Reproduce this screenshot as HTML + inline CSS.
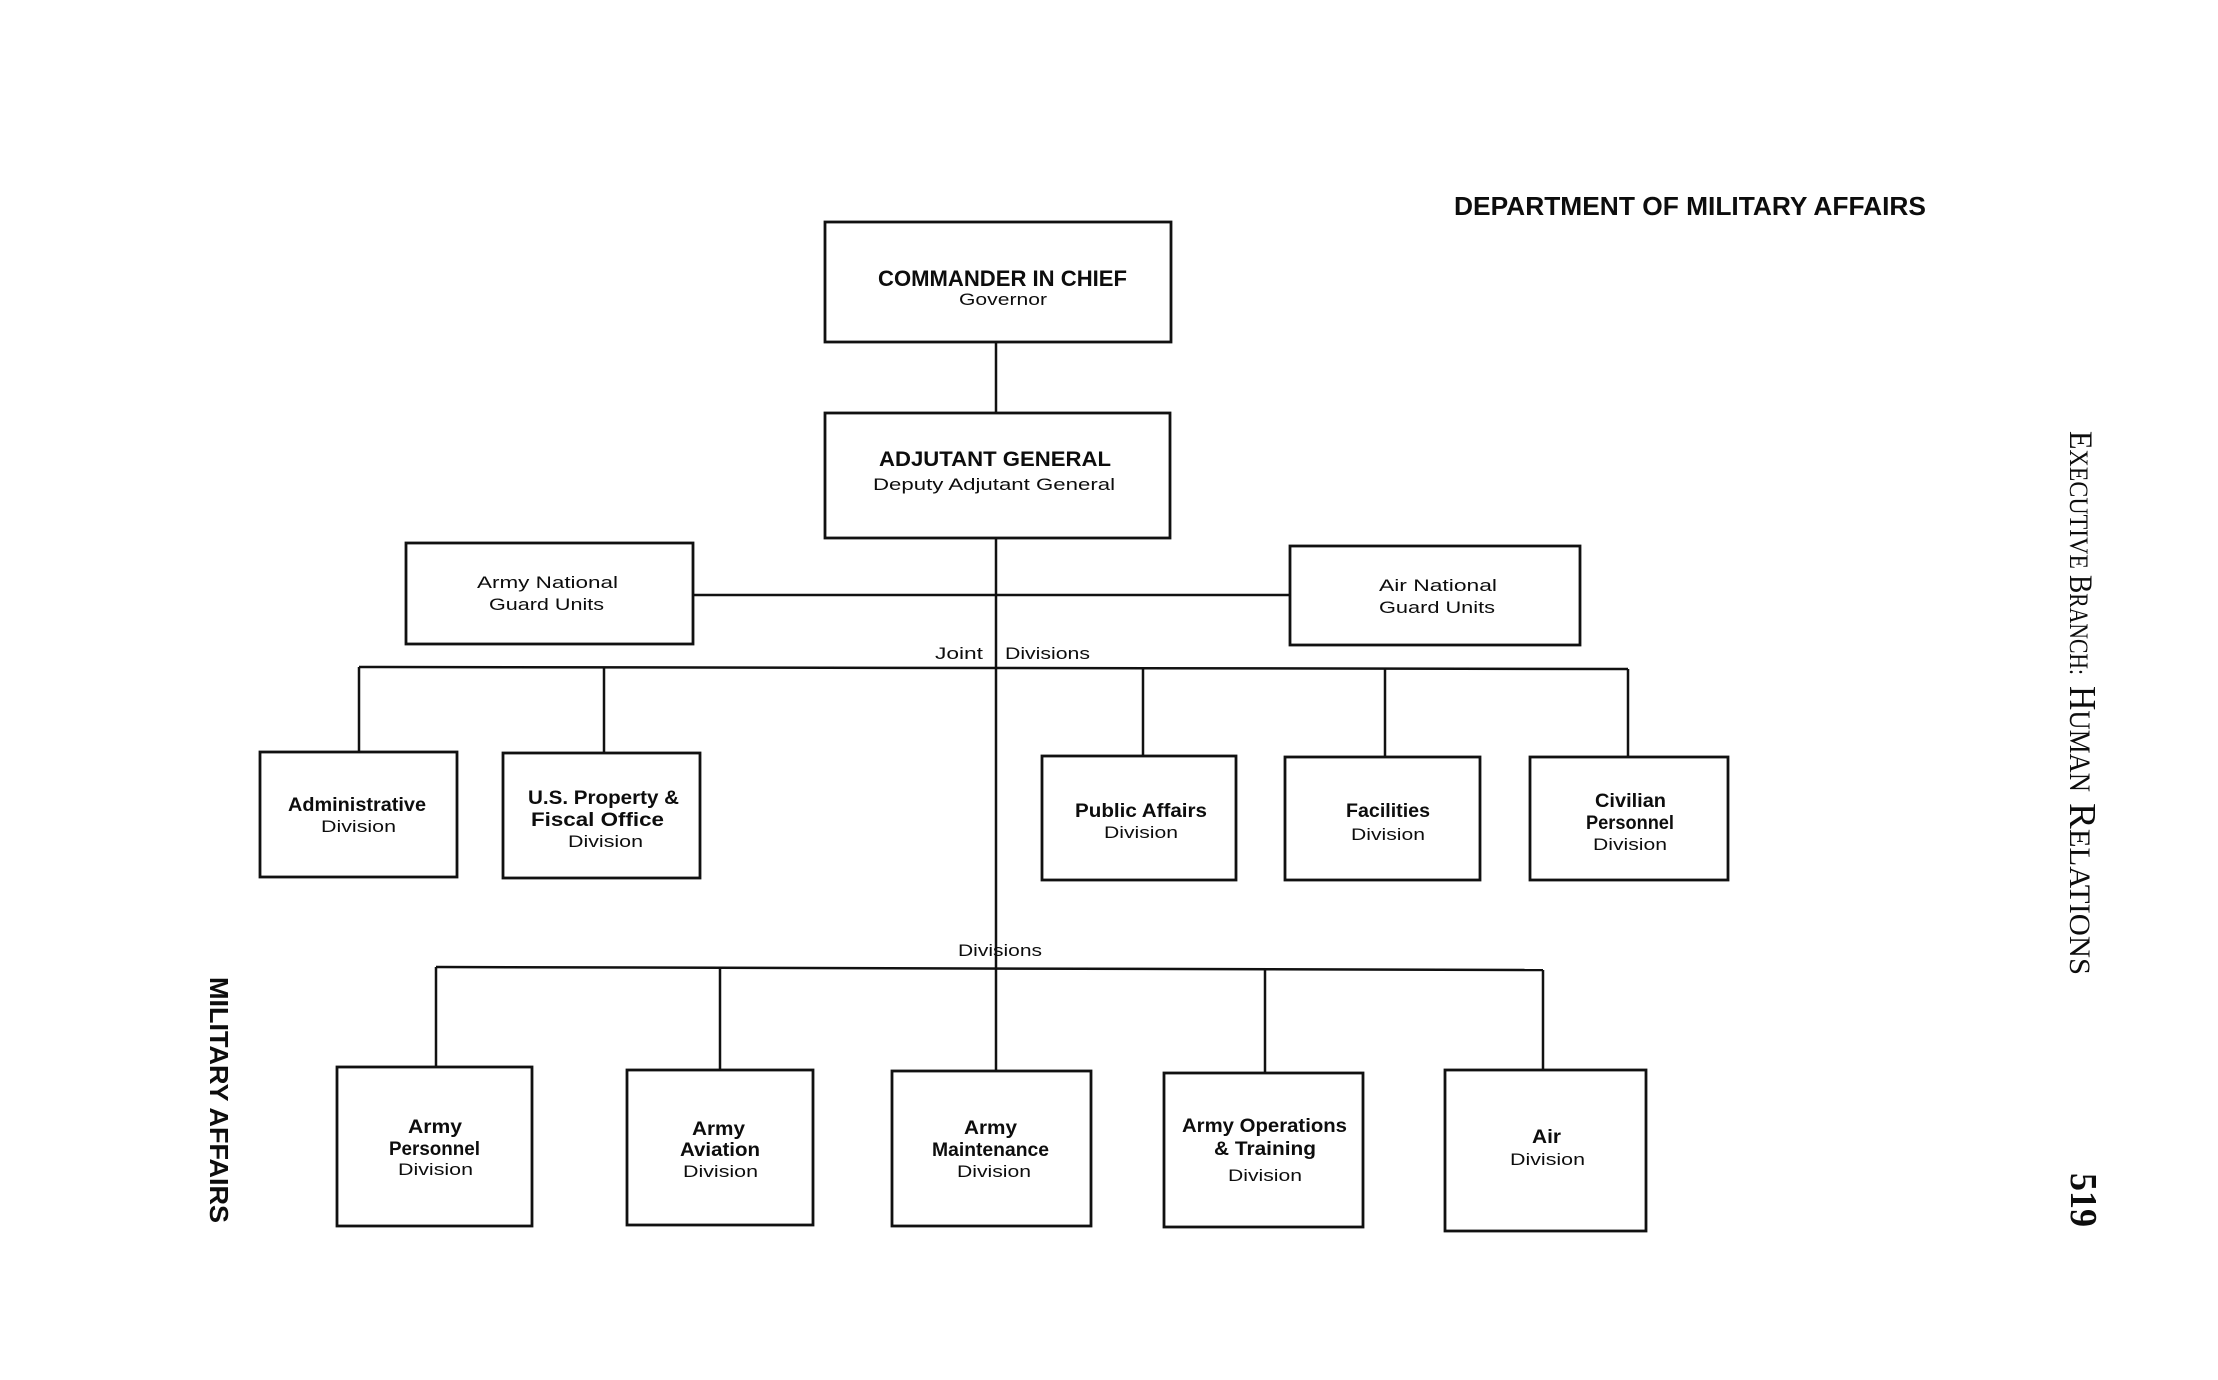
<!DOCTYPE html>
<html>
<head>
<meta charset="utf-8">
<style>
  html, body { margin: 0; padding: 0; background: #ffffff; }
  body { width: 2218px; height: 1380px; overflow: hidden; }
  svg { display: block; }
  .b { font-family: "Liberation Sans", Arial, sans-serif; font-weight: bold; fill: #0d0d0d; }
  .r { font-family: "Liberation Sans", Arial, sans-serif; font-weight: normal; fill: #0d0d0d; }
  .s { font-family: "Liberation Serif", "Times New Roman", serif; fill: #0d0d0d; }
</style>
</head>
<body>
<svg width="2218" height="1380" viewBox="0 0 2218 1380" xmlns="http://www.w3.org/2000/svg">
  <rect x="0" y="0" width="2218" height="1380" fill="#ffffff"/>

  <!-- Title -->
  <text class="b" x="1454" y="215" font-size="26" textLength="472" lengthAdjust="spacingAndGlyphs">DEPARTMENT OF MILITARY AFFAIRS</text>

  <!-- Connectors -->
  <g stroke="#111" stroke-width="2.5" fill="none">
    <line x1="996" y1="342" x2="996" y2="413"/>
    <line x1="996" y1="538" x2="996" y2="1071"/>
    <line x1="693" y1="595" x2="1290" y2="595"/>
    <!-- joint divisions bus -->
    <line x1="359" y1="667" x2="1628" y2="669"/>
    <line x1="359" y1="667" x2="359" y2="752"/>
    <line x1="604" y1="668" x2="604" y2="753"/>
    <line x1="1143" y1="669" x2="1143" y2="756"/>
    <line x1="1385" y1="669" x2="1385" y2="757"/>
    <line x1="1628" y1="669" x2="1628" y2="757"/>
    <!-- divisions bus -->
    <line x1="436" y1="967" x2="1543" y2="970"/>
    <line x1="436" y1="967" x2="436" y2="1067"/>
    <line x1="720" y1="968" x2="720" y2="1070"/>
    <line x1="1265" y1="969" x2="1265" y2="1073"/>
    <line x1="1543" y1="970" x2="1543" y2="1070"/>
  </g>

  <!-- Boxes -->
  <g stroke="#111" stroke-width="2.8" fill="none">
    <rect x="825" y="222" width="346" height="120"/>
    <rect x="825" y="413" width="345" height="125"/>
    <rect x="406" y="543" width="287" height="101"/>
    <rect x="1290" y="546" width="290" height="99"/>
    <rect x="260" y="752" width="197" height="125"/>
    <rect x="503" y="753" width="197" height="125"/>
    <rect x="1042" y="756" width="194" height="124"/>
    <rect x="1285" y="757" width="195" height="123"/>
    <rect x="1530" y="757" width="198" height="123"/>
    <rect x="337" y="1067" width="195" height="159"/>
    <rect x="627" y="1070" width="186" height="155"/>
    <rect x="892" y="1071" width="199" height="155"/>
    <rect x="1164" y="1073" width="199" height="154"/>
    <rect x="1445" y="1070" width="201" height="161"/>
  </g>

  <!-- Commander -->
  <text class="b" x="878" y="286" font-size="22" textLength="249" lengthAdjust="spacingAndGlyphs">COMMANDER IN CHIEF</text>
  <text class="r" x="959" y="305" font-size="17" textLength="88" lengthAdjust="spacingAndGlyphs">Governor</text>

  <!-- Adjutant -->
  <text class="b" x="879" y="466" font-size="21" textLength="232" lengthAdjust="spacingAndGlyphs">ADJUTANT GENERAL</text>
  <text class="r" x="873" y="490" font-size="17" textLength="242" lengthAdjust="spacingAndGlyphs">Deputy Adjutant General</text>

  <!-- Army NG -->
  <text class="r" x="477" y="588" font-size="17" textLength="141" lengthAdjust="spacingAndGlyphs">Army National</text>
  <text class="r" x="489" y="610" font-size="17" textLength="115" lengthAdjust="spacingAndGlyphs">Guard Units</text>

  <!-- Air NG -->
  <text class="r" x="1379" y="591" font-size="17" textLength="118" lengthAdjust="spacingAndGlyphs">Air National</text>
  <text class="r" x="1379" y="613" font-size="17" textLength="116" lengthAdjust="spacingAndGlyphs">Guard Units</text>

  <!-- Joint Divisions label -->
  <text class="r" x="935" y="659" font-size="17" textLength="48" lengthAdjust="spacingAndGlyphs">Joint</text>
  <text class="r" x="1005" y="659" font-size="17" textLength="85" lengthAdjust="spacingAndGlyphs">Divisions</text>

  <!-- Administrative -->
  <text class="b" x="288" y="811" font-size="19" textLength="138" lengthAdjust="spacingAndGlyphs">Administrative</text>
  <text class="r" x="321" y="832" font-size="17" textLength="75" lengthAdjust="spacingAndGlyphs">Division</text>

  <!-- USP&FO -->
  <text class="b" x="528" y="804" font-size="19" textLength="151" lengthAdjust="spacingAndGlyphs">U.S. Property &amp;</text>
  <text class="b" x="531" y="826" font-size="19" textLength="133" lengthAdjust="spacingAndGlyphs">Fiscal Office</text>
  <text class="r" x="568" y="847" font-size="17" textLength="75" lengthAdjust="spacingAndGlyphs">Division</text>

  <!-- Public Affairs -->
  <text class="b" x="1075" y="817" font-size="19" textLength="132" lengthAdjust="spacingAndGlyphs">Public Affairs</text>
  <text class="r" x="1104" y="838" font-size="17" textLength="74" lengthAdjust="spacingAndGlyphs">Division</text>

  <!-- Facilities -->
  <text class="b" x="1346" y="817" font-size="19" textLength="84" lengthAdjust="spacingAndGlyphs">Facilities</text>
  <text class="r" x="1351" y="840" font-size="17" textLength="74" lengthAdjust="spacingAndGlyphs">Division</text>

  <!-- Civilian Personnel -->
  <text class="b" x="1595" y="807" font-size="19" textLength="71" lengthAdjust="spacingAndGlyphs">Civilian</text>
  <text class="b" x="1586" y="829" font-size="19" textLength="88" lengthAdjust="spacingAndGlyphs">Personnel</text>
  <text class="r" x="1593" y="850" font-size="17" textLength="74" lengthAdjust="spacingAndGlyphs">Division</text>

  <!-- Divisions label -->
  <text class="r" x="958" y="956" font-size="17" textLength="84" lengthAdjust="spacingAndGlyphs">Divisions</text>

  <!-- Army Personnel -->
  <text class="b" x="408" y="1133" font-size="19" textLength="54" lengthAdjust="spacingAndGlyphs">Army</text>
  <text class="b" x="389" y="1155" font-size="19" textLength="91" lengthAdjust="spacingAndGlyphs">Personnel</text>
  <text class="r" x="398" y="1175" font-size="17" textLength="75" lengthAdjust="spacingAndGlyphs">Division</text>

  <!-- Army Aviation -->
  <text class="b" x="692" y="1135" font-size="19" textLength="53" lengthAdjust="spacingAndGlyphs">Army</text>
  <text class="b" x="680" y="1156" font-size="19" textLength="80" lengthAdjust="spacingAndGlyphs">Aviation</text>
  <text class="r" x="683" y="1177" font-size="17" textLength="75" lengthAdjust="spacingAndGlyphs">Division</text>

  <!-- Army Maintenance -->
  <text class="b" x="964" y="1134" font-size="19" textLength="53" lengthAdjust="spacingAndGlyphs">Army</text>
  <text class="b" x="932" y="1156" font-size="19" textLength="117" lengthAdjust="spacingAndGlyphs">Maintenance</text>
  <text class="r" x="957" y="1177" font-size="17" textLength="74" lengthAdjust="spacingAndGlyphs">Division</text>

  <!-- Army Operations & Training -->
  <text class="b" x="1182" y="1132" font-size="19" textLength="165" lengthAdjust="spacingAndGlyphs">Army Operations</text>
  <text class="b" x="1214" y="1155" font-size="19" textLength="102" lengthAdjust="spacingAndGlyphs">&amp; Training</text>
  <text class="r" x="1228" y="1181" font-size="17" textLength="74" lengthAdjust="spacingAndGlyphs">Division</text>

  <!-- Air Division -->
  <text class="b" x="1532" y="1143" font-size="19" textLength="29" lengthAdjust="spacingAndGlyphs">Air</text>
  <text class="r" x="1510" y="1165" font-size="17" textLength="75" lengthAdjust="spacingAndGlyphs">Division</text>

  <!-- Left rotated footer -->
  <text class="b" x="210" y="977" font-size="26" textLength="246" lengthAdjust="spacingAndGlyphs" transform="rotate(90 210 977)">MILITARY AFFAIRS</text>

  <!-- Right rotated running head -->
  <text class="s" x="2070" y="431" textLength="138" lengthAdjust="spacingAndGlyphs" transform="rotate(90 2070 431)"><tspan font-size="33">E</tspan><tspan font-size="26">XECUTIVE</tspan></text>
  <text class="s" x="2070" y="575" textLength="100" lengthAdjust="spacingAndGlyphs" transform="rotate(90 2070 575)"><tspan font-size="33">B</tspan><tspan font-size="26">RANCH:</tspan></text>
  <text class="s" x="2070" y="686" textLength="106" lengthAdjust="spacingAndGlyphs" transform="rotate(90 2070 686)"><tspan font-size="38">H</tspan><tspan font-size="30">UMAN</tspan></text>
  <text class="s" x="2070" y="803" textLength="172" lengthAdjust="spacingAndGlyphs" transform="rotate(90 2070 803)"><tspan font-size="38">R</tspan><tspan font-size="30">ELATIONS</tspan></text>

  <!-- Page number -->
  <text class="s" x="2071" y="1173" font-size="38" font-weight="bold" textLength="54" lengthAdjust="spacingAndGlyphs" transform="rotate(90 2071 1173)">519</text>
</svg>
</body>
</html>
